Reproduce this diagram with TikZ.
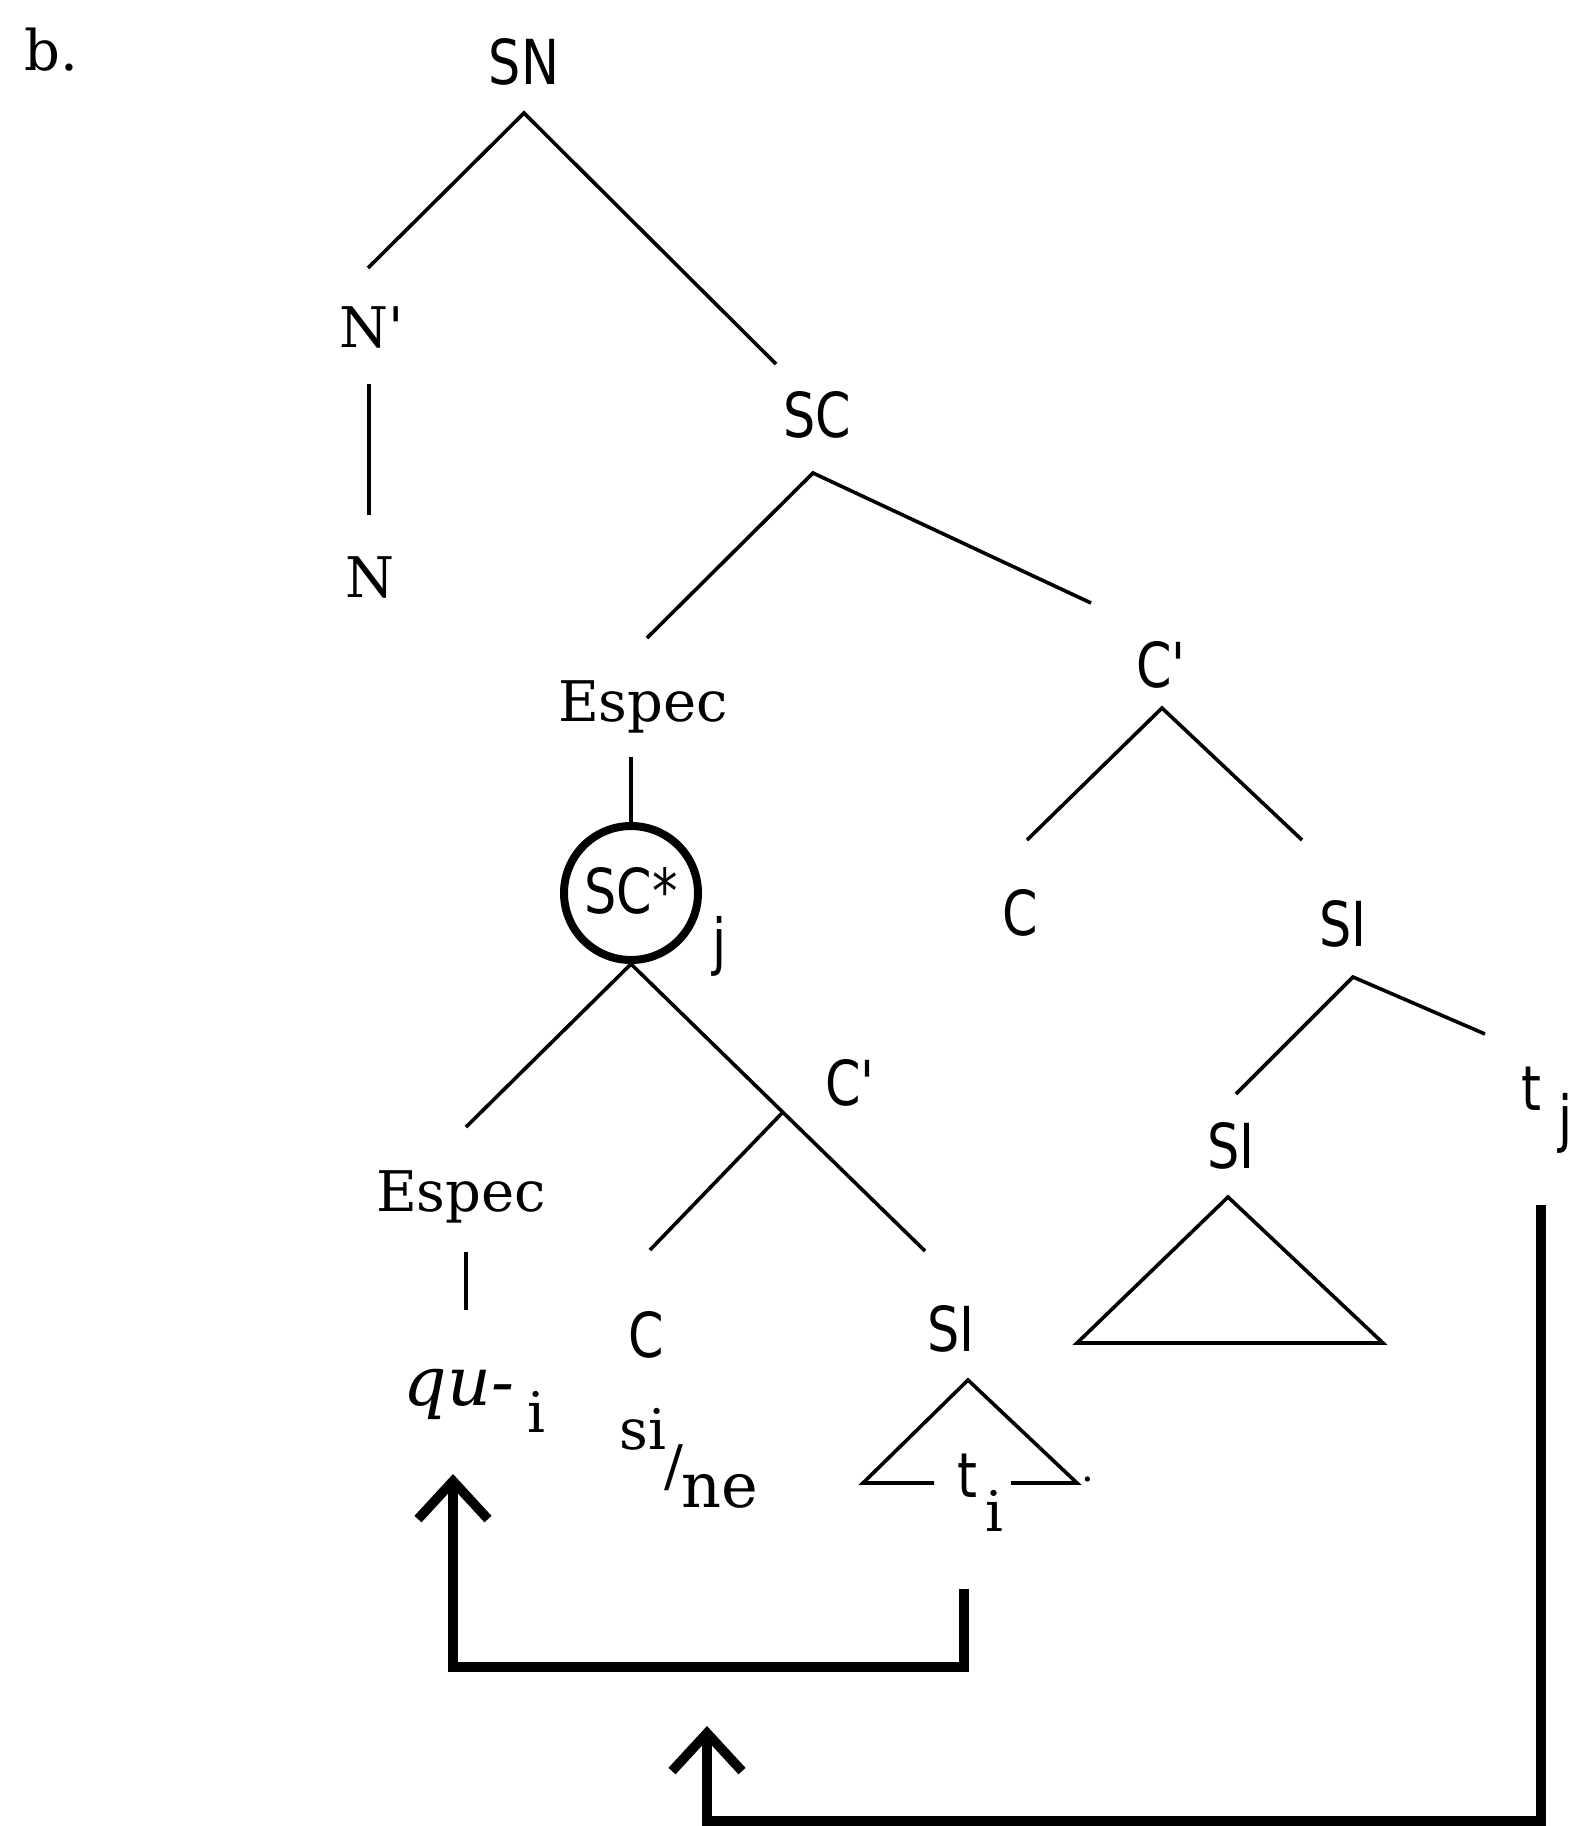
\documentclass[tikz,border=0pt]{standalone}
\usepackage{fontspec}
\usetikzlibrary{arrows.meta}
\newfontfamily\sfL[FakeStretch=0.82]{DejaVu Sans}
\newfontfamily\rmL{DejaVu Serif}
\begin{document}
\begin{tikzpicture}[x=0.5pt,y=-0.5pt,
 sl/.style={font=\sfL\fontsize{31}{33}\selectfont,inner sep=0pt,anchor=base},
 rl/.style={font=\rmL\fontsize{28}{30}\selectfont,inner sep=0pt,anchor=base},
 br/.style={line width=1.8pt},
 mv/.style={line width=4.8pt,line join=miter,-{Straight Barb[length=19pt,width=35pt]}}]
\useasboundingbox (0,0) rectangle (1572,1826);
% labels
\node[rl,anchor=base west] (lb) at (24,70) {b.};
\node[sl] (SN) at (524,84) {SN};
\node[rl] (Nb) at (364,347) {N\rlap{\textquotesingle}};
\node[rl] (N) at (370,597) {N};
\node[sl] (SC) at (817,437) {SC};
\node[rl] (E1) at (643,721) {Espec};
\node[sl] (Cb1) at (1154,687) {C\rlap{\textquotesingle}};
\node[sl] (C1) at (1020,935) {C};
\node[sl] (SI1) at (1343,946) {SI};
\node[sl] (t1) at (1531,1110) {t};
\node[sl] (j1) at (1566,1140) {j};
\node[sl] (SI2) at (1231,1168) {SI};
\node[draw,circle,line width=4pt,minimum size=67pt,inner sep=0pt] (SCs) at (631,893) {};
\node[sl] (SCst) at (631,913) {SC*};
\node[sl] (j2) at (720,963) {j};
\node[sl] (Cb2) at (843,1105) {C\rlap{\textquotesingle}};
\node[rl] (E2) at (461,1211) {Espec};
\node[rl,font=\rmL\itshape\fontsize{34}{36}\selectfont] (qu) at (459,1405) {qu-};
\node[rl] (i1) at (536,1432) {i};
\node[sl] (C2) at (646,1357) {C};
\node[rl] (si) at (643,1449) {si};
\node[rl] (slash) at (674,1485) {/};
\node[rl,font=\rmL\fontsize{31}{33}\selectfont] (ne) at (720,1507) {ne};
\node[sl] (SI3) at (951,1351) {SI};
\node[sl] (t2) at (967,1497) {t};
\node[rl] (i2) at (994,1531) {i};
\node[rl,font=\rmL\fontsize{20}{22}\selectfont] (dot) at (1088,1481) {.};
% branch points
\coordinate (SNa) at (524,113);
\coordinate (SNl) at (368,268);
\coordinate (SNr) at (776,364);
\coordinate (Na) at (369,384);
\coordinate (Nz) at (369,515);
\coordinate (SCa) at (813,473);
\coordinate (SCl) at (647,638);
\coordinate (SCr) at (1091,603);
\coordinate (E1a) at (631,757);
\coordinate (Ca) at (1162,708);
\coordinate (Cl) at (1027,840);
\coordinate (Cr) at (1302,840);
\coordinate (SIa) at (1353,977);
\coordinate (SIl) at (1236,1094);
\coordinate (SIr) at (1485,1034);
\coordinate (T1a) at (1228,1197);
\coordinate (T1l) at (1077,1343);
\coordinate (T1r) at (1383,1343);
\coordinate (Sl) at (466,1127);
\coordinate (Sr) at (925,1251);
\coordinate (Cj) at (783,1112);
\coordinate (Cjl) at (650,1250);
\coordinate (E2a) at (466,1252);
\coordinate (E2z) at (466,1310);
\coordinate (T2a) at (968,1380);
\coordinate (T2l) at (863,1483);
\coordinate (T2r) at (1077,1483);
\coordinate (T2m1) at (934,1483);
\coordinate (T2m2) at (1011,1483);
\coordinate (A1s) at (964,1589);
\coordinate (A1b) at (964,1667);
\coordinate (A1c) at (453,1667);
\coordinate (A1e) at (453,1474);
\coordinate (A2s) at (1541,1205);
\coordinate (A2b) at (1541,1821);
\coordinate (A2c) at (707,1821);
\coordinate (A2e) at (707,1726);
% tree lines
\draw[br] (SNl) -- (SNa) -- (SNr);
\draw[br] (Na) -- (Nz);
\draw[br] (SCl) -- (SCa) -- (SCr);
\draw[br] (E1a) -- (SCs.north);
\draw[br] (Cl) -- (Ca) -- (Cr);
\draw[br] (SIl) -- (SIa) -- (SIr);
\draw[br] (T1a) -- (T1l) -- (T1r) -- cycle;
\draw[br] (Sl) -- (SCs.south) -- (Sr);
\draw[br] (Cj) -- (Cjl);
\draw[br] (E2a) -- (E2z);
\draw[br] (T2m2) -- (T2r) -- (T2a) -- (T2l) -- (T2m1);
% movement arrows
\draw[mv] (A1s) -- (A1b) -- (A1c) -- (A1e);
\draw[mv] (A2s) -- (A2b) -- (A2c) -- (A2e);
\end{tikzpicture}
\end{document}
